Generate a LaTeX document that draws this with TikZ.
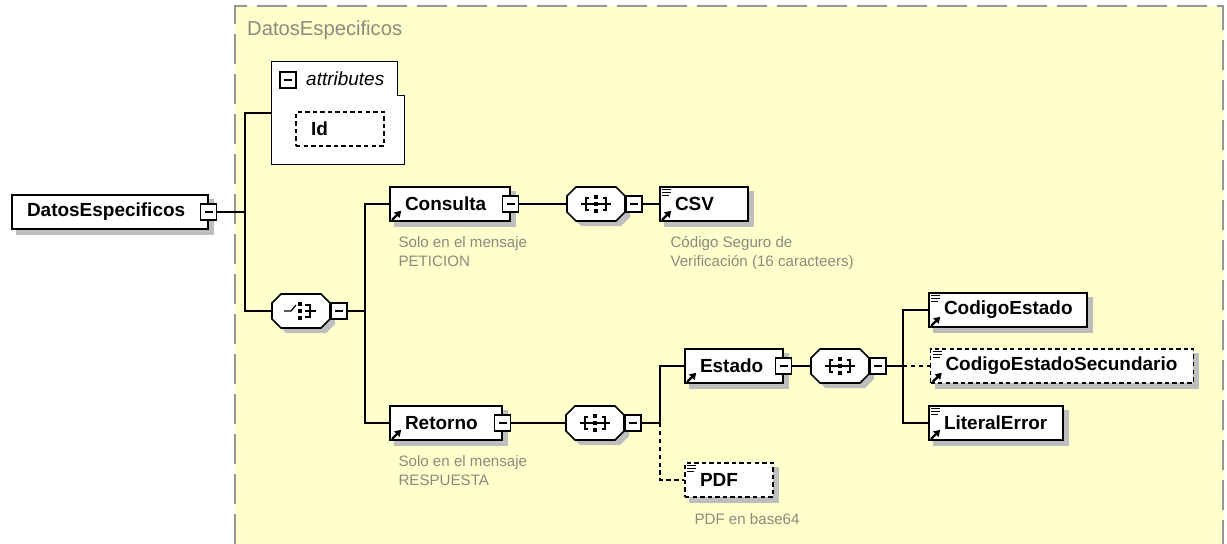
\documentclass[tikz,border=0pt]{standalone}
\usepackage{fontspec}
\setmainfont{Liberation Sans}
\usepackage{xcolor}
\usetikzlibrary{arrows.meta, positioning, calc, backgrounds}

\definecolor{panel}{RGB}{255,255,204}
\definecolor{framegray}{RGB}{150,150,150}
\definecolor{notegray}{RGB}{140,138,126}
\definecolor{shadowgray}{RGB}{190,190,190}

\pgfdeclarelayer{shadow}
\pgfsetlayers{background,shadow,main}

\tikzset{
    octshadow/.pic={
        \fill[shadowgray] (-15,-12) -- (25,-12) -- (34,-3) -- (34,13) -- (25,22) -- (-15,22) -- (-24,13) -- (-24,-3) -- cycle;
    },
    octagon/.pic={
        \draw[line width=0.9pt, fill=white] (-20,-17) -- (20,-17) -- (29,-8) -- (29,8) -- (20,17) -- (-20,17) -- (-29,8) -- (-29,-8) -- cycle;
    },
    seqmark/.pic={
        \pic {octagon};
        \draw[line width=0.7pt] (-15,0) -- (15,0);
        \draw[line width=0.7pt] (-7,-6) -- (-10,-6) -- (-10,6) -- (-7,6);
        \draw[line width=0.7pt] (7,-6) -- (10,-6) -- (10,6) -- (7,6);
        \fill (-2,-9) rectangle (2,-5);
        \fill (-2,-2) rectangle (2,2);
        \fill (-2,5) rectangle (2,9);
    },
    choicemark/.pic={
        \pic {octagon};
        \draw[line width=0.7pt] (-17,0) -- (-10,0) -- (-5,-6);
        \draw[line width=0.7pt] (4,-6) -- (9,-6) -- (9,6) -- (4,6);
        \draw[line width=0.7pt] (4,0) -- (15,0);
        \fill (-3,-9) rectangle (1,-5);
        \fill (-3,-2) rectangle (1,2);
        \fill (-3,5) rectangle (1,9);
    },
    refmark/.pic={
        \draw[line width=1.3pt, -{Triangle[length=3.5pt, width=4.2pt]}] (3,-2) -- (12,-11);
    },
    typemark/.pic={
        \draw[line width=0.5pt] (3,3) -- (12,3) (3,6) -- (12,6) (3,9) -- (10,9);
    }
}

\begin{document}
\begin{tikzpicture}[x=0.02cm, y=-0.02cm, >=Stealth,
    every node/.style={font=\fontsize{10.8}{13}\selectfont},
    elem/.style={rectangle, draw=black, line width=0.9pt, fill=white, minimum height=0.68cm, inner xsep=0.3cm, inner ysep=0pt, align=left, font=\fontsize{10.8}{13}\selectfont\bfseries},
    optional/.style={elem, dash pattern=on 2.5pt off 1.8pt},
    compositor/.style={rectangle, minimum width=1.16cm, minimum height=0.68cm, inner sep=0pt},
    toggle/.style={rectangle, draw=black, line width=0.8pt, fill=white, minimum size=0.32cm, inner sep=0pt, path picture={\draw[line width=0.7pt] ([xshift=2.2pt]path picture bounding box.west) -- ([xshift=-2.2pt]path picture bounding box.east);}},
    note/.style={font=\fontsize{8.6}{10.8}\selectfont, text=notegray, align=left, inner sep=0pt, anchor=north west},
    link/.style={line width=0.75pt},
    linkopt/.style={line width=0.75pt, dash pattern=on 2.5pt off 2pt},
]
\useasboundingbox (0,0) rectangle (1227,544);

% panel of the complex type
\begin{pgfonlayer}{background}
\fill[panel] (235,6) rectangle (1224,544);
\draw[framegray, line width=1.2pt, dash pattern=on 0.6cm off 0.2cm] (235,544) -- (235,6) -- (1223,6) -- (1223,544);
\end{pgfonlayer}
\node[anchor=west, font=\fontsize{11.5}{14}\selectfont, text=notegray] (title) at (241,30) {DatosEspecificos};

% root element
\node[elem, text width=3.32cm] (root) at (110,212) {DatosEspecificos};
\node[toggle] (rootT) at (root.east) {};

% attributes
\node[minimum width=2.64cm, minimum height=2.04cm, inner sep=0pt] (attrs) at (338,113) {};
\draw[line width=0.9pt, fill=white] (attrs.north west) -- ($(attrs.north east)+(-7,0)$) -- ($(attrs.north east)+(-7,34)$) -- ($(attrs.north east)+(0,34)$) -- (attrs.south east) -- (attrs.south west) -- cycle;
\node[toggle] (attrsT) at (288,80) {};
\node[anchor=west, font=\fontsize{10.8}{13}\selectfont\itshape] (attrsLbl) at (300,79) {attributes};
\node[optional, text width=1.16cm] (id) at (340,129) {Id};

% choice
\node[compositor] (choice) at (301,311) {};
\pic at (choice) {choicemark};
\node[toggle, anchor=west] (choiceT) at (choice.east) {};

% Consulta branch
\node[elem, text width=1.8cm] (consulta) at (450,204) {Consulta};
\node[toggle] (consultaT) at (consulta.east) {};
\pic at (consulta.south west) {refmark};
\node[note] (consultaNote) at ($(consulta.south west)+(9,14)$) {Solo en el mensaje\\PETICION};

\node[compositor] (seqA) at (596,204) {};
\pic at (seqA) {seqmark};
\node[toggle, anchor=west] (seqAT) at (seqA.east) {};

\node[elem, text width=1.16cm] (csv) at (704,204) {CSV};
\pic at (csv.north west) {typemark};
\pic at (csv.south west) {refmark};
\node[note] (csvNote) at ($(csv.south west)+(11,14)$) {Código Seguro de\\Verificación (16 caracteers)};

% Retorno branch
\node[elem, text width=1.64cm] (retorno) at (446,423) {Retorno};
\node[toggle] (retornoT) at (retorno.east) {};
\pic at (retorno.south west) {refmark};
\node[note] (retornoNote) at ($(retorno.south west)+(9,14)$) {Solo en el mensaje\\RESPUESTA};

\node[compositor] (seqB) at (595,423) {};
\pic at (seqB) {seqmark};
\node[toggle, anchor=west] (seqBT) at (seqB.east) {};

\node[elem, text width=1.36cm] (estado) at (734,366) {Estado};
\node[toggle] (estadoT) at (estado.east) {};
\pic at (estado.south west) {refmark};

\node[optional, text width=1.16cm] (pdf) at (729,480) {PDF};
\pic at (pdf.north west) {typemark};
\node[note] (pdfNote) at ($(pdf.south west)+(10,15)$) {PDF en base64};

\node[compositor] (seqC) at (840,366) {};
\pic at (seqC) {seqmark};
\node[toggle, anchor=west] (seqCT) at (seqC.east) {};

\node[elem, text width=2.56cm] (codEst) at (1008,310) {CodigoEstado};
\pic at (codEst.north west) {typemark};
\pic at (codEst.south west) {refmark};
\node[optional, text width=4.66cm] (codSec) at (1062,366) {CodigoEstadoSecundario};
\pic at (codSec.north west) {typemark};
\pic at (codSec.south west) {refmark};
\node[elem, text width=2.08cm] (litErr) at (996,423) {LiteralError};
\pic at (litErr.north west) {typemark};
\pic at (litErr.south west) {refmark};

% shadows of boxes and compositors
\begin{pgfonlayer}{shadow}
\foreach \n in {root, id, consulta, csv, retorno, estado, pdf, codEst, codSec, litErr}
    \fill[shadowgray] ($(\n.north west)+(5,5)$) rectangle ($(\n.south east)+(5,5)$);
\foreach \n in {choice, seqA, seqB, seqC}
    \pic at (\n) {octshadow};
\end{pgfonlayer}

% connectors
\coordinate (rootJ) at (245,212);
\draw[link] (rootT.east) -- (rootJ) |- (attrs.west);
\draw[link] (rootJ) |- (choice.west);
\coordinate (choiceJ) at (365,311);
\draw[link] (choiceT.east) -- (choiceJ) |- (consulta.west);
\draw[link] (choiceJ) |- (retorno.west);
\draw[link] (consultaT.east) -- (seqA.west);
\draw[link] (seqAT.east) -- (csv.west);
\draw[link] (retornoT.east) -- (seqB.west);
\coordinate (retornoJ) at (660,423);
\draw[link] (seqBT.east) -- (retornoJ) |- (estado.west);
\draw[linkopt] (retornoJ) |- (pdf.west);
\draw[link] (estadoT.east) -- (seqC.west);
\coordinate (estadoJ) at (903,366);
\draw[link] (seqCT.east) -- (estadoJ) |- (codEst.west);
\draw[link] (estadoJ) |- (litErr.west);
\draw[linkopt] (estadoJ) -- (codSec.west);

\end{tikzpicture}
\end{document}
